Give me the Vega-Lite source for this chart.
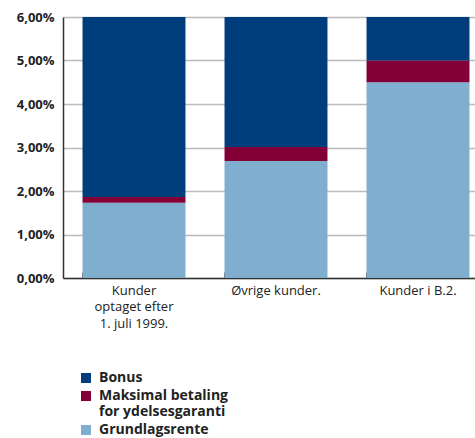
{
  "$schema": "https://vega.github.io/schema/vega-lite/v6.json",
  "autosize": {"type": "none"},
  "width": 412,
  "height": 261,
  "padding": {"left": 63, "top": 17, "right": 0, "bottom": 160},
  "background": "white",
  "config": {
    "view": {"stroke": null},
    "font": "Open Sans"
  },
  "data": {
    "values": [
      {"gruppe": "Kunder|optaget efter|1. juli 1999.", "komponent": "Grundlagsrente", "ord": 1, "vaerdi": 1.73},
      {"gruppe": "Kunder|optaget efter|1. juli 1999.", "komponent": "Maksimal betaling|for ydelsesgaranti", "ord": 2, "vaerdi": 0.13},
      {"gruppe": "Kunder|optaget efter|1. juli 1999.", "komponent": "Bonus", "ord": 3, "vaerdi": 4.14},
      {"gruppe": "Øvrige kunder.", "komponent": "Grundlagsrente", "ord": 1, "vaerdi": 2.69},
      {"gruppe": "Øvrige kunder.", "komponent": "Maksimal betaling|for ydelsesgaranti", "ord": 2, "vaerdi": 0.32},
      {"gruppe": "Øvrige kunder.", "komponent": "Bonus", "ord": 3, "vaerdi": 2.99},
      {"gruppe": "Kunder i B.2.", "komponent": "Grundlagsrente", "ord": 1, "vaerdi": 4.5},
      {"gruppe": "Kunder i B.2.", "komponent": "Maksimal betaling|for ydelsesgaranti", "ord": 2, "vaerdi": 0.5},
      {"gruppe": "Kunder i B.2.", "komponent": "Bonus", "ord": 3, "vaerdi": 1.0}
    ]
  },
  "mark": {"type": "bar", "clip": false},
  "encoding": {
    "x": {
      "field": "gruppe",
      "type": "nominal",
      "sort": null,
      "scale": {"range": [0, 426], "paddingInner": 0.275, "paddingOuter": 0.1375},
      "axis": {
        "title": null,
        "labelAngle": 0,
        "labelExpr": "split(datum.label, '|')",
        "labelFontSize": 13,
        "labelColor": "#222",
        "labelLineHeight": 16.5,
        "labelPadding": 12,
        "labelBaseline": "top",
        "bandPosition": 0,
        "ticks": true,
        "tickSize": -6,
        "tickColor": "#666",
        "tickWidth": 1,
        "domainColor": "#333",
        "domainWidth": 1.5,
        "grid": false
      }
    },
    "y": {
      "field": "vaerdi",
      "type": "quantitative",
      "stack": "zero",
      "scale": {"domain": [0, 6], "nice": false},
      "axis": {
        "title": null,
        "values": [0, 1, 2, 3, 4, 5, 6],
        "labelExpr": "replace(format(datum.value, '.2f'), '.', ',') + '%'",
        "labelFontSize": 13,
        "labelFontWeight": "bold",
        "labelColor": "#222",
        "labelPadding": 9,
        "ticks": false,
        "domainColor": "#333",
        "domainWidth": 1.5,
        "grid": true,
        "gridColor": "#bbbbbb",
        "gridWidth": 1.5
      }
    },
    "color": {
      "field": "komponent",
      "type": "nominal",
      "scale": {
        "domain": ["Bonus", "Maksimal betaling|for ydelsesgaranti", "Grundlagsrente"],
        "range": ["#003d7c", "#820037", "#7faecf"]
      },
      "legend": {
        "title": null,
        "orient": "none",
        "legendX": 16,
        "legendY": 354,
        "labelExpr": "split(datum.label, '|')",
        "labelFontSize": 14,
        "labelFontWeight": "bold",
        "labelColor": "#222",
        "labelLineHeight": 17,
        "symbolType": "square",
        "symbolSize": 100,
        "symbolStrokeWidth": 0,
        "rowPadding": 4,
        "labelOffset": 6
      }
    },
    "order": {"field": "ord", "type": "quantitative"}
  }
}
